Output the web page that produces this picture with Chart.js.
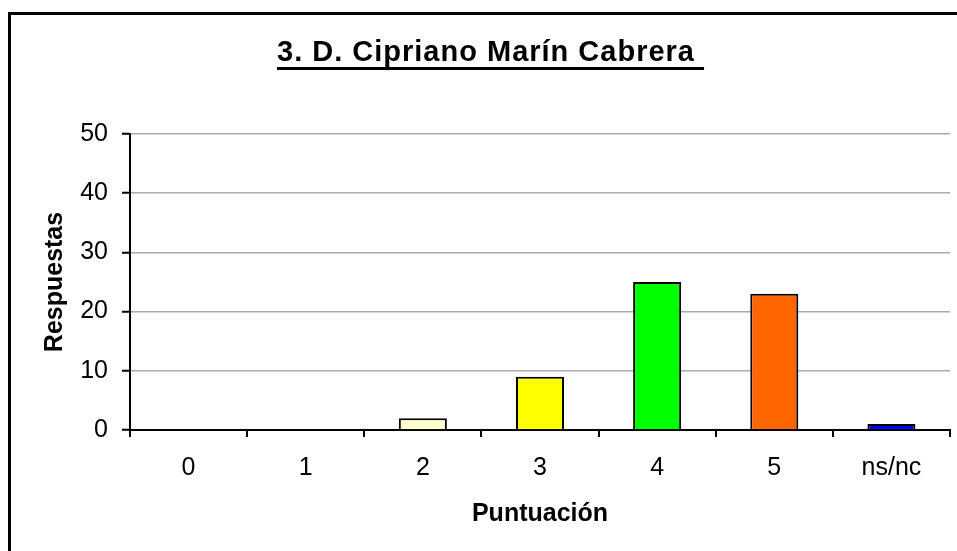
<!DOCTYPE html>
<html>
<head>
<meta charset="utf-8">
<script src="https://cdn.jsdelivr.net/npm/chart.js@4/dist/chart.umd.min.js"></script>
<style>
  body { margin: 0; background: #fff; }
  #frame { position: absolute; left: 8px; top: 12px; width: 960px; height: 560px;
           border-left: 3px solid #000; border-top: 3px solid #000; }
  #titulo { position: absolute; left: 277px; top: 35px; line-height: 29px;
            font: bold 29px "Liberation Sans", Arial, sans-serif; letter-spacing: 1px;
            text-decoration: underline; text-decoration-thickness: 3px;
            text-underline-offset: 6px; text-decoration-skip-ink: none;
            white-space: pre; color: #000; }
  #mycanvas { position: absolute; left: 0; top: 0; }
</style>
</head>
<body>
<div id="frame"></div>
<canvas id="mycanvas" width="957" height="551"></canvas>
<div id="titulo">3. D. Cipriano Marín Cabrera </div>
<script>
// valores
var puntuacion = ['0', '1', '2', '3', '4', '5', 'ns/nc'];
var respuestas = [0, 0, 2, 9, 25, 23, 1];
var colores = ['#FFFFFF', '#FFFFFF', '#FFFFCC', '#FFFF00', '#00FF00', '#FF6600', '#0000FF'];

var fuente = '"Liberation Sans", Arial, sans-serif';

var ctx = document.getElementById('mycanvas');

var grafico = new Chart(ctx, {
	type: 'bar',
	data: {
		labels: puntuacion,
		datasets: [{
			label: 'Respuestas',
			data: respuestas,
			backgroundColor: colores,
			borderColor: '#000',
			borderWidth: 2,
			borderSkipped: 'start',
			barPercentage: 0.41,
			categoryPercentage: 1
		}]
	},
	options: {
		responsive: false,
		animation: false,
		devicePixelRatio: 1,
		layout: { padding: { left: 30, right: 7, top: 134, bottom: 11 } },
		plugins: { legend: { display: false }, tooltip: { enabled: false }, title: { display: false } },
		scales: {
			x: {
				afterFit: function(s) { s.height = 110; },
				grid: { display: true, drawOnChartArea: false, drawTicks: true, tickLength: 7, tickColor: '#000', lineWidth: 2, offset: true },
				border: { display: true, color: '#000', width: 2 },
				ticks: { color: '#000', padding: 16, font: { family: fuente, size: 25 } },
				title: { display: true, text: 'Puntuación', color: '#000', padding: { top: 0, bottom: 11 },
					font: { family: fuente, size: 25, weight: 'bold' } }
			},
			y: {
				min: 0,
				max: 50,
				afterFit: function(s) { s.width = 100; },
				grid: { color: '#ababab', lineWidth: 1.5, tickLength: 8, tickColor: '#000', tickWidth: 2 },
				border: { display: true, color: '#000', width: 2 },
				ticks: { stepSize: 10, color: '#000', padding: 14, font: { family: fuente, size: 25 } },
				title: { display: true, text: 'Respuestas', color: '#000', padding: { top: 10, bottom: 0 },
					font: { family: fuente, size: 25, weight: 'bold' } }
			}
		}
	}
});
</script>
</body>
</html>
